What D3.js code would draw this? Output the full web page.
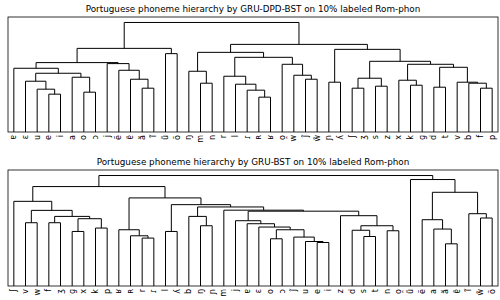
<!DOCTYPE html>
<html>
<head>
<meta charset="utf-8">
<script src="https://cdn.jsdelivr.net/npm/d3@7"></script>
<style>
  body { margin: 0; background: #fff; }
  text { font-family: "DejaVu Sans", sans-serif; fill: #000; }
</style>
</head>
<body>
<svg id="chart" width="500" height="300"></svg>
<script>
// leaf labels, left to right, for each dendrogram
var topLeaves = ["ɐ","ɛ","u","e","i","a","o","ɔ","j","ẽ","ɐ̃","ã","ĩ","ũ","õ","ŋ","m","n","r","l","ɾ","ʀ","ʁ","o̯","w","j̃","w̃",
                 "ɲ","ʎ","ʃ","ʒ","s","z","x","k","ɡ","d","t","v","b","f","p"];
var botLeaves = ["ʃ","v","w","f","ʒ","ɡ","x","k","p","ʁ","ʀ","r","ɾ","l","ʎ","b","ŋ","ɲ","m","j","ɐ","ɛ","o","ɔ","j̃","u","e","i",
                 "z","d","s","t","n","o̯","ũ","ẽ","a","ã","ɐ̃","ĩ","w̃","õ"];

// merges as [left, right, distance]; a number is a leaf position
var topTree = [
  [[[0, [[1, [2, [3, 4, 0.38], 0.43], 0.51], [5, [6, 7, 0.40], 0.55], 0.59], 0.64],
    [8, [9, [10, [11, 12, 0.44], 0.53], 0.62], 0.687], 0.697],
   [13, 14, 0.787], 0.84],
  [[[15, [16, 17, 0.49], 0.61],
    [[18, [19, [20, [21, 22, 0.35], 0.42], 0.48], 0.56], [23, [24, [25, 26, 0.53], 0.57], 0.68], 0.75], 0.80],
   [[27, 28, 0.50],
    [[[29, 30, 0.44], [31, 32, 0.46], 0.54],
     [[33, [34, 35, 0.47], 0.52], [[36, 37, 0.45], [38, [39, [40, 41, 0.44], 0.49], 0.50], 0.65], 0.68], 0.71], 0.83], 0.88],
  1.10];

var botTree = [
  [[0, [[1, 2, 0.63], [[3, 4, 0.63], [[5, 6, 0.543], [7, 8, 0.577], 0.67], 0.693], 0.753], 0.843],
   [[9, [10, [11, 12, 0.477], 0.50], 0.56],
    [[13, 14, 0.543],
     [[15, [16, 17, 0.60], 0.693],
      [18,
       [[19, [20, [21, [[22, 23, 0.47], [24, [25, [26, 27, 0.433], 0.443], 0.487], 0.56], 0.587], 0.62], 0.65],
        [28, [[29, [30, 31, 0.493], 0.555], [32, 33, 0.55], 0.60], 0.70], 0.745], 0.755], 0.787], 0.81], 0.877], 0.99],
  [34, [[35, [36, [37, 38, 0.42], 0.567], 0.66], [39, [40, 41, 0.677], 0.72], 0.933], 1.06],
  1.10];

var titles = ["Portuguese phoneme hierarchy by GRU-DPD-BST on 10% labeled Rom-phon",
              "Portuguese phoneme hierarchy by GRU-BST on 10% labeled Rom-phon"];

var svg = d3.select("#chart");

function drawDendro(tree, leaves, title, box) {
  var g = svg.append("g");
  var x = d3.scaleLinear().domain([0, leaves.length * 10]).range([box.left, box.right]);
  var y = d3.scaleLinear().domain([0, tree[2] * 1.05]).range([box.bottom, box.top]);

  // walk the tree, collect the U shaped links
  var links = [];
  function walk(n) {
    if (typeof n === "number") return {x: n * 10 + 5, h: 0};
    var a = walk(n[0]), b = walk(n[1]);
    links.push({a: a, b: b, h: n[2]});
    return {x: (a.x + b.x) / 2, h: n[2]};
  }
  walk(tree);

  g.selectAll("path.link")
    .data(links)
    .enter().append("path")
      .attr("class", "link")
      .attr("fill", "none")
      .attr("stroke", "#000")
      .attr("stroke-width", 1)
      .attr("d", function(d) {
        return "M" + x(d.a.x) + "," + y(d.a.h) + "V" + y(d.h) + "H" + x(d.b.x) + "V" + y(d.b.h);
      });

  // frame
  g.append("rect")
    .attr("x", box.left).attr("y", box.top)
    .attr("width", box.right - box.left).attr("height", box.bottom - box.top)
    .attr("fill", "none").attr("stroke", "#000").attr("stroke-width", 0.8);

  g.append("text")
    .attr("x", (box.left + box.right) / 2)
    .attr("y", box.top - 5)
    .attr("text-anchor", "middle")
    .attr("font-size", 8.8)
    .text(title);

  g.selectAll("text.leaf")
    .data(leaves)
    .enter().append("text")
      .attr("class", "leaf")
      .attr("text-anchor", "end")
      .attr("dominant-baseline", "central")
      .attr("font-size", 8)
      .attr("transform", function(d, i) {
        return "translate(" + x(i * 10 + 5) + "," + (box.bottom + 3) + ") rotate(-90)";
      })
      .text(function(d) { return d; });
}

drawDendro(topTree, topLeaves, titles[0], {left: 8, right: 498, top: 17, bottom: 132});
drawDendro(botTree, botLeaves, titles[1], {left: 8, right: 498, top: 170, bottom: 286});
</script>
</body>
</html>
